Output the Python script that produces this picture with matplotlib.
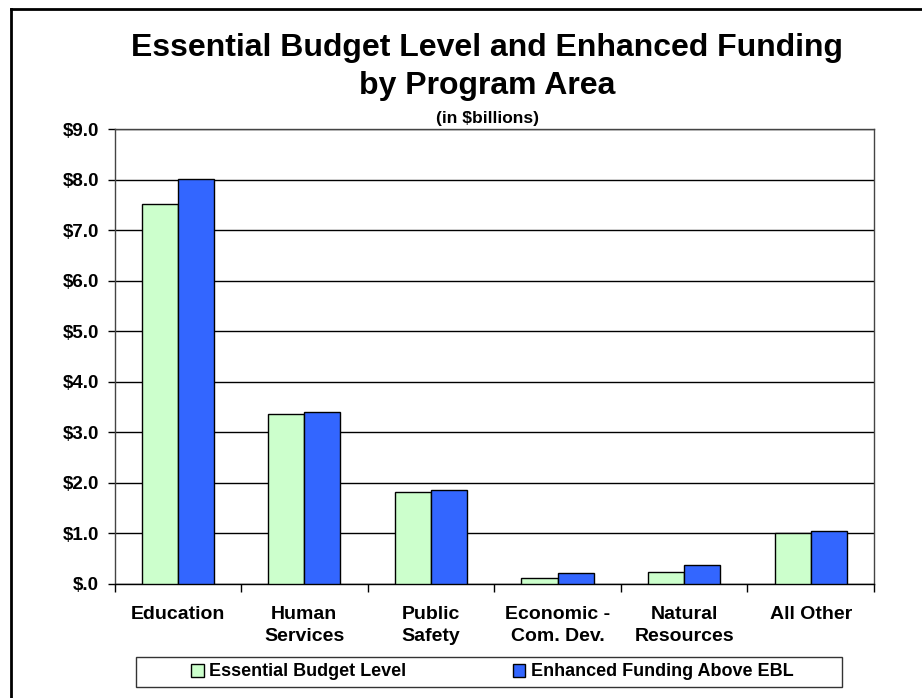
import matplotlib
matplotlib.use("Agg")
import matplotlib.pyplot as plt
import numpy as np
from matplotlib.lines import Line2D
from matplotlib.patches import Rectangle

plt.rcParams['font.family'] = ['Liberation Sans', 'DejaVu Sans']
plt.rcParams['font.weight'] = 'bold'

# program areas and funding levels ($ billions)
areas = ["Education", "Human\nServices", "Public\nSafety",
         "Economic -\nCom. Dev.", "Natural\nResources", "All Other"]
ebl = [7.51, 3.36, 1.81, 0.12, 0.24, 1.00]
enhanced = [8.02, 3.41, 1.85, 0.21, 0.38, 1.05]
series_names = ["Essential Budget Level", "Enhanced Funding Above EBL"]
yticks = np.arange(0, 9.5, 1.0)
ytick_labels = ["$.0"] + ["$%.1f" % v for v in yticks[1:]]

W, H = 922, 698
fig = plt.figure(figsize=(W / 100, H / 100), dpi=100)
ax = fig.add_axes([114.5 / W, 1 - 584 / H, (874 - 114.5) / W, (584 - 129) / H])

x = np.arange(len(areas))
w = 0.285
b1 = ax.bar(x - w / 2, ebl, w, color="#CCFFCC", edgecolor="black", linewidth=1, zorder=3,
            label=series_names[0])
b2 = ax.bar(x + w / 2, enhanced, w, color="#3366FF", edgecolor="black", linewidth=1, zorder=3,
            label=series_names[1])

ax.set_xlim(-0.5, len(areas) - 0.5)
ax.set_ylim(0, 9)
ax.set_yticks(yticks)
ax.set_yticklabels(ytick_labels, fontsize=13.5, fontweight="bold")
ax.yaxis.grid(True, color="black", linewidth=1, zorder=0)
ax.tick_params(axis="y", direction="out", length=5, width=1, pad=6)

# category separators as ticks, names as minor labels
ax.set_xticks(np.arange(-0.5, len(areas), 1.0))
ax.set_xticklabels([])
ax.set_xticks(x, minor=True)
ax.set_xticklabels(areas, minor=True, fontsize=14, fontweight="bold", linespacing=1.4)
ax.tick_params(axis="x", which="major", direction="out", length=6, width=1)
ax.tick_params(axis="x", which="minor", length=0, pad=16)

for s in ax.spines.values():
    s.set_color("#444444")
    s.set_linewidth(1)
ax.spines["bottom"].set_color("black")

cx = 487 / W
fig.text(cx, 1 - 48 / H, "Essential Budget Level and Enhanced Funding",
         ha="center", va="center", fontsize=23, fontweight="bold")
fig.text(cx, 1 - 86 / H, "by Program Area",
         ha="center", va="center", fontsize=23, fontweight="bold")
fig.text(cx, 1 - 118 / H, "(in $billions)", ha="center", va="center", fontsize=12.5,
         fontweight="bold")

leg = fig.legend(handles=[b1, b2], loc="center left", bbox_to_anchor=(191 / W, 1 - 672 / H),
                 ncol=2, frameon=False, handlelength=0.7, handleheight=0.7,
                 handletextpad=0.3, columnspacing=5.9, borderpad=0, borderaxespad=0,
                 prop={"weight": "bold", "size": 13})
fig.add_artist(Rectangle((136 / W, 1 - 687 / H), 706 / W, 30 / H, transform=fig.transFigure,
                         facecolor="none", edgecolor="#333333", linewidth=1))

# outer page border (left and top edges)
fig.add_artist(Line2D([11 / W, 11 / W], [0, 1 - 9 / H], color="black", linewidth=2,
                      transform=fig.transFigure))
fig.add_artist(Line2D([11 / W, 1], [1 - 9 / H, 1 - 9 / H], color="black", linewidth=2,
                      transform=fig.transFigure))

fig.savefig("out.png", dpi=100)
